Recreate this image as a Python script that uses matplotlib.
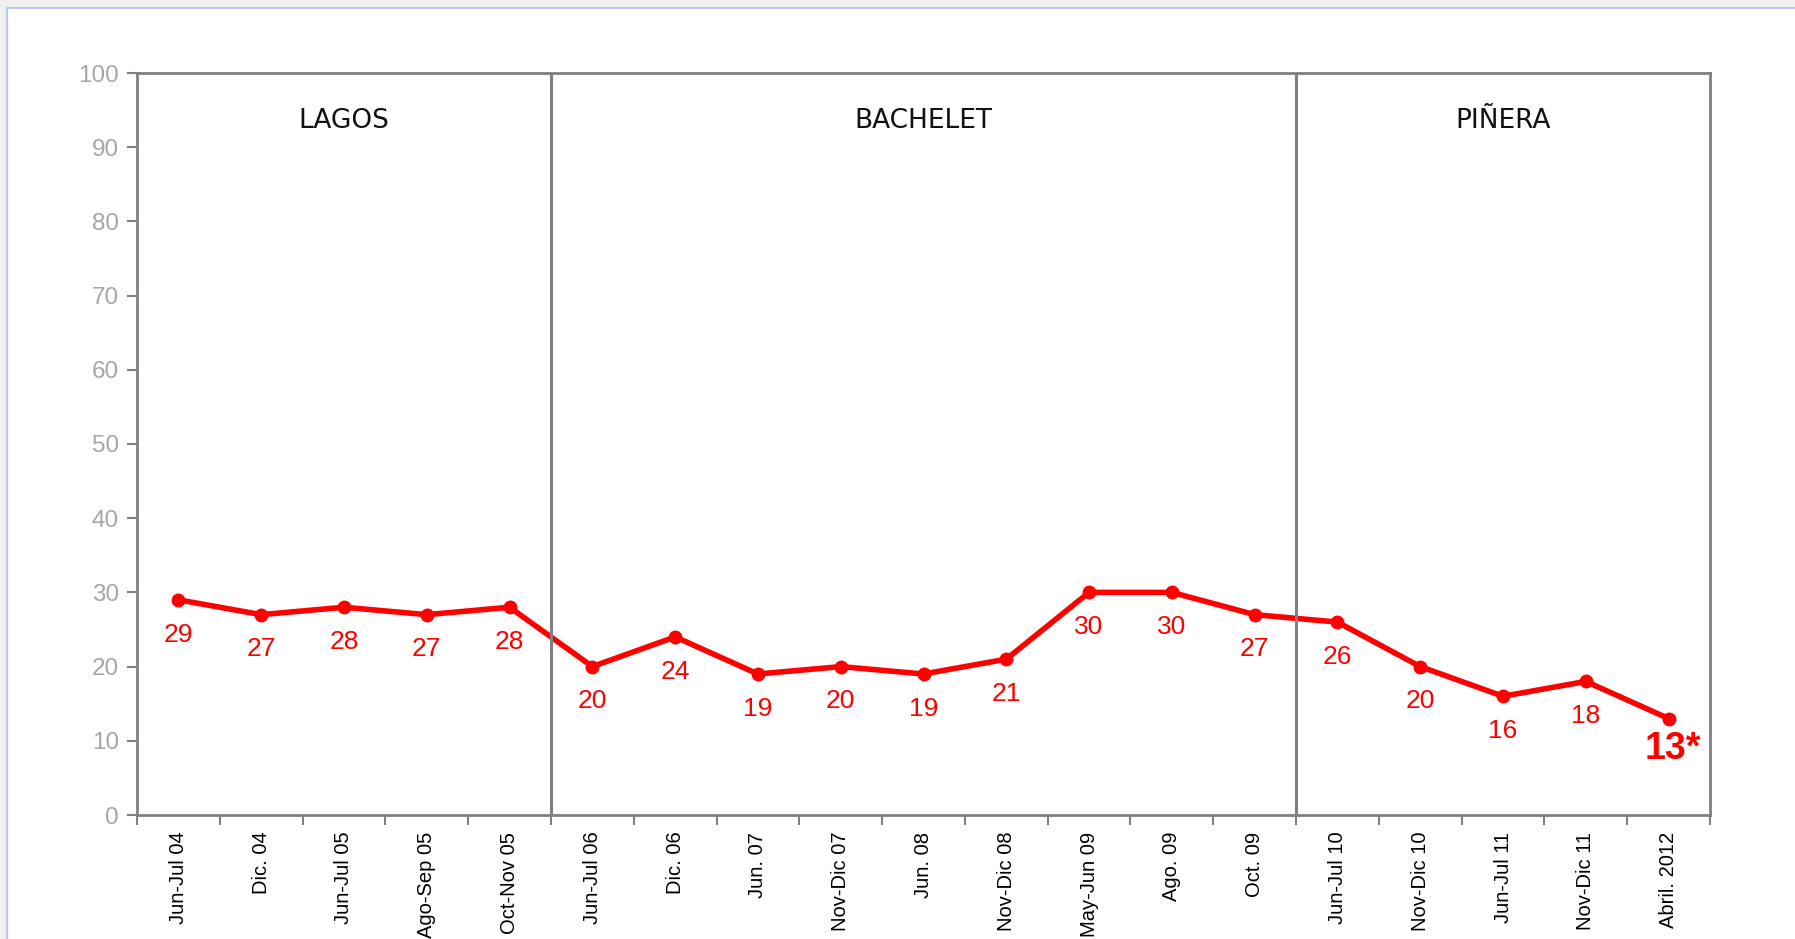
import matplotlib.pyplot as plt
from matplotlib.patches import Rectangle

# survey waves and values
waves = ['Jun-Jul 04', 'Dic. 04', 'Jun-Jul 05', 'Ago-Sep 05', 'Oct-Nov 05',
         'Jun-Jul 06', 'Dic. 06', 'Jun. 07', 'Nov-Dic 07', 'Jun. 08',
         'Nov-Dic 08', 'May-Jun 09', 'Ago. 09', 'Oct. 09',
         'Jun-Jul 10', 'Nov-Dic 10', 'Jun-Jul 11', 'Nov-Dic 11', 'Abril. 2012']
values = [29, 27, 28, 27, 28, 20, 24, 19, 20, 19, 21, 30, 30, 27, 26, 20, 16, 18, 13]

# governments: name, first wave index, last wave index
periods = ['LAGOS', 'BACHELET', 'PIÑERA']
period_start = [0, 5, 14]
period_end = [4, 13, 18]

plt.rcParams['font.family'] = ['Liberation Sans', 'DejaVu Sans']

fig = plt.figure(figsize=(17.95, 9.39), dpi=100)
fig.patch.set_facecolor('#f0f0f0')
# white panel of the original screenshot
fig.patches.append(Rectangle((7 / 1795, -0.01), 1.0, (939 - 8) / 939 + 0.01,
                             transform=fig.transFigure, facecolor='white',
                             edgecolor='#b9c9f9', linewidth=1.5, zorder=-10))

ax = fig.add_axes([137 / 1795, 1 - 815 / 939, (1710 - 137) / 1795, (815 - 73) / 939])
ax.set_facecolor('white')

x = list(range(len(waves)))
red = '#ff0000'
grey = '#808080'

ax.plot(x, values, color=red, lw=4, marker='o', ms=9, zorder=3)

for i, v in enumerate(values[:-1]):
    ax.annotate(str(v), (i, v), xytext=(0, -25), textcoords='offset points',
                ha='center', va='center', color=red, fontsize=19)
ax.annotate(f'{values[-1]}*', (x[-1], values[-1]), xytext=(3, -22),
            textcoords='offset points', ha='center', va='center',
            color=red, fontsize=27, fontweight='bold')

# separators between governments
for s in period_start[1:]:
    ax.axvline(s - 0.5, color=grey, lw=2.2, zorder=4)

for name, a, b in zip(periods, period_start, period_end):
    ax.text((a + b) / 2, 93.5, name, ha='center', va='center', fontsize=19,
            family='DejaVu Sans', color='#111111')

ax.set_xlim(-0.5, len(waves) - 0.5)
ax.set_ylim(0, 100)
ax.set_yticks(range(0, 101, 10))
ax.tick_params(axis='y', colors=grey, labelcolor='#a6a6a6', labelsize=17.5,
               length=7, width=1.5, direction='out', pad=6)

ax.set_xticks(x)
ax.set_xticklabels(waves, rotation=90, fontsize=14.5)
ax.tick_params(axis='x', which='major', length=0, pad=12, labelcolor='black')
ax.set_xticks([i - 0.5 for i in range(len(waves) + 1)], minor=True)
ax.tick_params(axis='x', which='minor', length=7, width=1.5, color=grey,
               direction='out')

for sp in ax.spines.values():
    sp.set_color(grey)
    sp.set_linewidth(2)

fig.savefig('out.png', dpi=100, facecolor=fig.get_facecolor())
